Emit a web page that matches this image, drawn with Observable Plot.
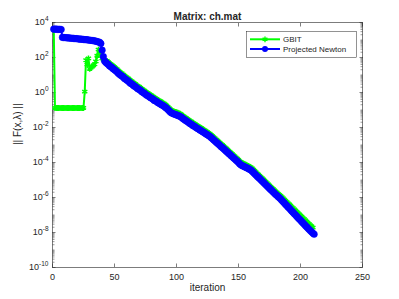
<!DOCTYPE html>
<html><head><meta charset="utf-8">
<script src="https://cdn.jsdelivr.net/npm/d3@7"></script>
<script src="https://cdn.jsdelivr.net/npm/@observablehq/plot@0.6"></script>
<style>html,body{margin:0;padding:0;background:#fff}svg{display:block}</style>
</head><body><div id="chart"></div>
<script>
const title = "Matrix: ch.mat";
const xLabel = "iteration";
const yLabel = "|| F(x,λ) ||";
const seriesNames = ["GBIT", "Projected Newton"];
const seriesColors = ["#00ff00", "#0000ff"];
const xTicks = [0, 50, 100, 150, 200, 250];
const yTickExponents = [-10, -8, -6, -4, -2, 0, 2, 4];

// GBIT: log10 of ||F|| for iterations 1..210
const gbitStart = 1;
const gbitLog10 = [
  3.62,
  // 2-25
  -0.88,-0.88,-0.89,-0.89,-0.89,-0.89,-0.89,-0.89,-0.89,-0.89,-0.89,-0.89,
  -0.89,-0.89,-0.89,-0.89,-0.89,-0.89,-0.89,-0.89,-0.89,-0.89,-0.89,-0.88,
  // 26-43
  0.05,1.85,1.60,1.95,1.35,1.42,1.48,1.55,1.62,1.78,2.10,2.45,2.25,2.30,1.95,1.88,1.82,1.78,
  // 44-89
  1.80,1.74,1.66,1.62,1.56,1.50,1.45,1.38,1.33,1.25,1.19,1.12,1.09,1.02,0.95,0.91,
  0.85,0.80,0.73,0.67,0.64,0.57,0.51,0.48,0.41,0.35,0.32,0.27,0.20,0.15,0.11,0.05,
  -0.01,-0.04,-0.09,-0.15,-0.18,-0.23,-0.30,-0.33,-0.37,-0.43,-0.47,-0.51,-0.56,-0.59,
  // 90-127
  -0.64,-0.70,-0.75,-0.82,-0.89,-0.97,-1.02,-1.05,-1.08,-1.11,-1.13,-1.16,-1.19,-1.22,
  -1.27,-1.33,-1.38,-1.43,-1.48,-1.52,-1.58,-1.63,-1.67,-1.73,-1.77,-1.81,-1.87,-1.91,
  -1.95,-2.00,-2.04,-2.09,-2.13,-2.18,-2.23,-2.27,-2.32,-2.37,
  // 128-160
  -2.43,-2.49,-2.56,-2.62,-2.69,-2.75,-2.81,-2.88,-2.95,-3.00,-3.07,-3.13,-3.20,-3.26,
  -3.33,-3.39,-3.46,-3.52,-3.59,-3.65,-3.72,-3.78,-3.85,-3.93,-3.99,-4.03,-4.06,-4.10,
  -4.13,-4.17,-4.20,-4.25,-4.28,
  // 161-184
  -4.34,-4.41,-4.48,-4.55,-4.63,-4.69,-4.76,-4.83,-4.90,-4.97,-5.04,-5.11,-5.18,-5.25,
  -5.32,-5.39,-5.46,-5.52,-5.59,-5.66,-5.72,-5.79,-5.85,-5.91,
  // 185-210
  -5.98,-6.05,-6.12,-6.20,-6.26,-6.33,-6.40,-6.47,-6.55,-6.61,-6.68,-6.75,-6.82,-6.90,
  -6.96,-7.03,-7.10,-7.18,-7.24,-7.31,-7.38,-7.46,-7.52,-7.59,-7.65,-7.72
];

// Projected Newton: log10 of ||F|| for iterations 1..211
const newtonStart = 1;
const newtonLog10 = [
  // 1-7
  3.62,3.62,3.62,3.61,3.61,3.61,3.60,
  // 8-38
  3.15,3.14,3.14,3.13,3.12,3.12,3.11,3.10,3.10,3.09,3.08,3.08,3.07,3.06,3.05,3.05,
  3.04,3.03,3.02,3.02,3.01,3.00,2.99,2.98,2.97,2.96,2.95,2.93,2.91,2.89,2.87,
  // 39-44
  2.80,2.42,2.05,1.80,1.72,1.66,
  // 45-55
  1.60,1.52,1.47,1.42,1.35,1.30,1.24,1.18,1.10,1.04,0.98,
  // 56-71
  0.94,0.88,0.80,0.76,0.70,0.66,0.58,0.52,0.49,0.42,0.36,0.33,0.26,0.20,0.17,0.12,
  // 72-89
  0.05,0.00,-0.04,-0.10,-0.16,-0.19,-0.24,-0.30,-0.33,-0.38,-0.45,-0.48,-0.52,-0.58,
  -0.62,-0.66,-0.71,-0.74,
  // 90-127
  -0.79,-0.85,-0.90,-0.97,-1.04,-1.12,-1.17,-1.20,-1.23,-1.26,-1.28,-1.31,-1.34,-1.37,
  -1.42,-1.48,-1.53,-1.58,-1.63,-1.67,-1.73,-1.78,-1.82,-1.88,-1.92,-1.96,-2.02,-2.06,
  -2.10,-2.15,-2.19,-2.24,-2.28,-2.33,-2.38,-2.42,-2.47,-2.52,
  // 128-160
  -2.58,-2.64,-2.71,-2.77,-2.84,-2.90,-2.96,-3.03,-3.10,-3.15,-3.22,-3.28,-3.35,-3.41,
  -3.48,-3.54,-3.61,-3.67,-3.74,-3.80,-3.87,-3.93,-4.00,-4.08,-4.14,-4.18,-4.21,-4.25,
  -4.28,-4.32,-4.35,-4.40,-4.43,
  // 161-184
  -4.50,-4.57,-4.64,-4.71,-4.79,-4.85,-4.92,-4.99,-5.06,-5.13,-5.20,-5.27,-5.34,-5.41,
  -5.48,-5.55,-5.62,-5.69,-5.76,-5.83,-5.89,-5.96,-6.02,-6.09,
  // 185-211
  -6.17,-6.24,-6.32,-6.40,-6.47,-6.55,-6.62,-6.70,-6.78,-6.85,-6.93,-7.00,-7.08,-7.16,
  -7.23,-7.30,-7.38,-7.46,-7.53,-7.61,-7.68,-7.76,-7.83,-7.90,-7.97,-8.04,-8.10
];

const gbit = gbitLog10.map((v, i) => ({iter: gbitStart + i, value: Math.pow(10, v)}));
const newton = newtonLog10.map((v, i) => ({iter: newtonStart + i, value: Math.pow(10, v)}));

const yTicks = yTickExponents.map(e => Math.pow(10, e));
const minorTicks = [];
for (let e = -10; e < 4; e++) for (let m = 1; m < 10; m++) {
  if (m === 1 && e % 2 === 0) continue;
  minorTicks.push(m * Math.pow(10, e));
}

const ink = "#262626";
const font = "'Liberation Sans', Arial, Helvetica, sans-serif";
const noLabel = () => null;

const chart = Plot.plot({
  width: 399, height: 299,
  marginLeft: 52, marginRight: 37, marginTop: 22, marginBottom: 32,
  style: {fontFamily: font, fontSize: "9px", color: ink, background: "#fff", overflow: "visible"},
  x: {domain: [0, 250], label: null},
  y: {type: "log", domain: [1e-10, 1e4], label: null},
  marks: [
    Plot.frame({stroke: ink, strokeWidth: 0.6}),
    // minor y ticks (inward) left and right
    Plot.axisY(minorTicks, {anchor: "left", tickSize: -2.5, tickFormat: noLabel, label: null, stroke: "#555", strokeWidth: 0.6}),
    Plot.axisY(minorTicks, {anchor: "right", tickSize: -2.5, tickFormat: noLabel, label: null, stroke: "#555", strokeWidth: 0.6}),
    // major y ticks
    Plot.axisY(yTicks, {anchor: "left", tickSize: -3.5, tickFormat: noLabel, label: null, stroke: ink, strokeWidth: 0.6}),
    Plot.axisY(yTicks, {anchor: "right", tickSize: -3.5, tickFormat: noLabel, label: null, stroke: ink, strokeWidth: 0.6}),
    Plot.axisY(yTicks, {anchor: "left", tickSize: 0, tickPadding: 4, label: null, fontSize: 9, fill: ink,
      tickFormat: d => "E" + String(Math.round(Math.log10(d)))}),
    // x ticks
    Plot.axisX(xTicks, {anchor: "bottom", tickSize: -3.5, tickFormat: noLabel, label: null, stroke: ink, strokeWidth: 0.6}),
    Plot.axisX(xTicks, {anchor: "top", tickSize: -3.5, tickFormat: noLabel, label: null, stroke: ink, strokeWidth: 0.6}),
    Plot.axisX(xTicks, {anchor: "bottom", tickSize: 0, tickPadding: 6, label: null, fontSize: 9, fill: ink}),
    // GBIT
    Plot.line(gbit, {x: "iter", y: "value", stroke: seriesColors[0], strokeWidth: 2}),
    Plot.dot(gbit, {x: "iter", y: "value", symbol: "asterisk", r: 2.8, stroke: seriesColors[0], strokeWidth: 1.5}),
    // Projected Newton
    Plot.line(newton, {x: "iter", y: "value", stroke: seriesColors[1], strokeWidth: 2}),
    Plot.dot(newton, {x: "iter", y: "value", r: 3.3, fill: seriesColors[1], stroke: seriesColors[1], strokeWidth: 0.5}),
    // labels
    Plot.text([title], {frameAnchor: "top", dy: -9.5, fontWeight: "bold", fontSize: 10, fill: ink}),
    Plot.text([xLabel], {frameAnchor: "bottom", dy: 23.5, fontSize: 10, fill: ink}),
    Plot.text([yLabel], {frameAnchor: "left", dx: -35, rotate: -90, fontSize: 10, fill: ink})
  ]
});

// remove any empty tick label texts; turn "E<n>" labels into 10 with superscript exponent
chart.querySelectorAll('g[aria-label$="tick label"] text').forEach(t => {
  const c = t.textContent;
  if (!c || c === "null") { t.remove(); return; }
  if (c[0] !== "E") return;
  const exp = c.slice(1);
  t.textContent = "";
  const ns = "http://www.w3.org/2000/svg";
  const b = document.createElementNS(ns, "tspan");
  b.textContent = "10";
  const s = document.createElementNS(ns, "tspan");
  s.textContent = exp;
  s.setAttribute("dy", "-4");
  s.setAttribute("font-size", "6.5");
  t.appendChild(b); t.appendChild(s);
});

// legend
const svg = d3.select(chart);
const lg = svg.append("g").attr("font-family", font).attr("font-size", 8).attr("fill", ink)
  .attr("text-anchor", "start");
lg.append("rect").attr("x", 246.5).attr("y", 31.5).attr("width", 110).attr("height", 26)
  .attr("fill", "#fff").attr("stroke", ink).attr("stroke-width", 0.5);
const rows = [39.3, 49];
seriesNames.forEach((name, i) => {
  const y = rows[i];
  lg.append("line").attr("x1", 250).attr("x2", 280).attr("y1", y).attr("y2", y)
    .attr("stroke", seriesColors[i]).attr("stroke-width", 2);
  if (i === 0) {
    lg.append("path").attr("d", d3.symbol(d3.symbolAsterisk, 22)()).attr("transform", `translate(265,${y})`)
      .attr("fill", "none").attr("stroke", seriesColors[i]).attr("stroke-width", 1.4);
  } else {
    lg.append("circle").attr("cx", 265).attr("cy", y).attr("r", 3).attr("fill", seriesColors[i]);
  }
  lg.append("text").attr("x", 283).attr("y", y).attr("dy", "0.32em")
    .attr("text-anchor", "start").text(name);
});

document.getElementById("chart").appendChild(chart);
</script>
</body></html>
